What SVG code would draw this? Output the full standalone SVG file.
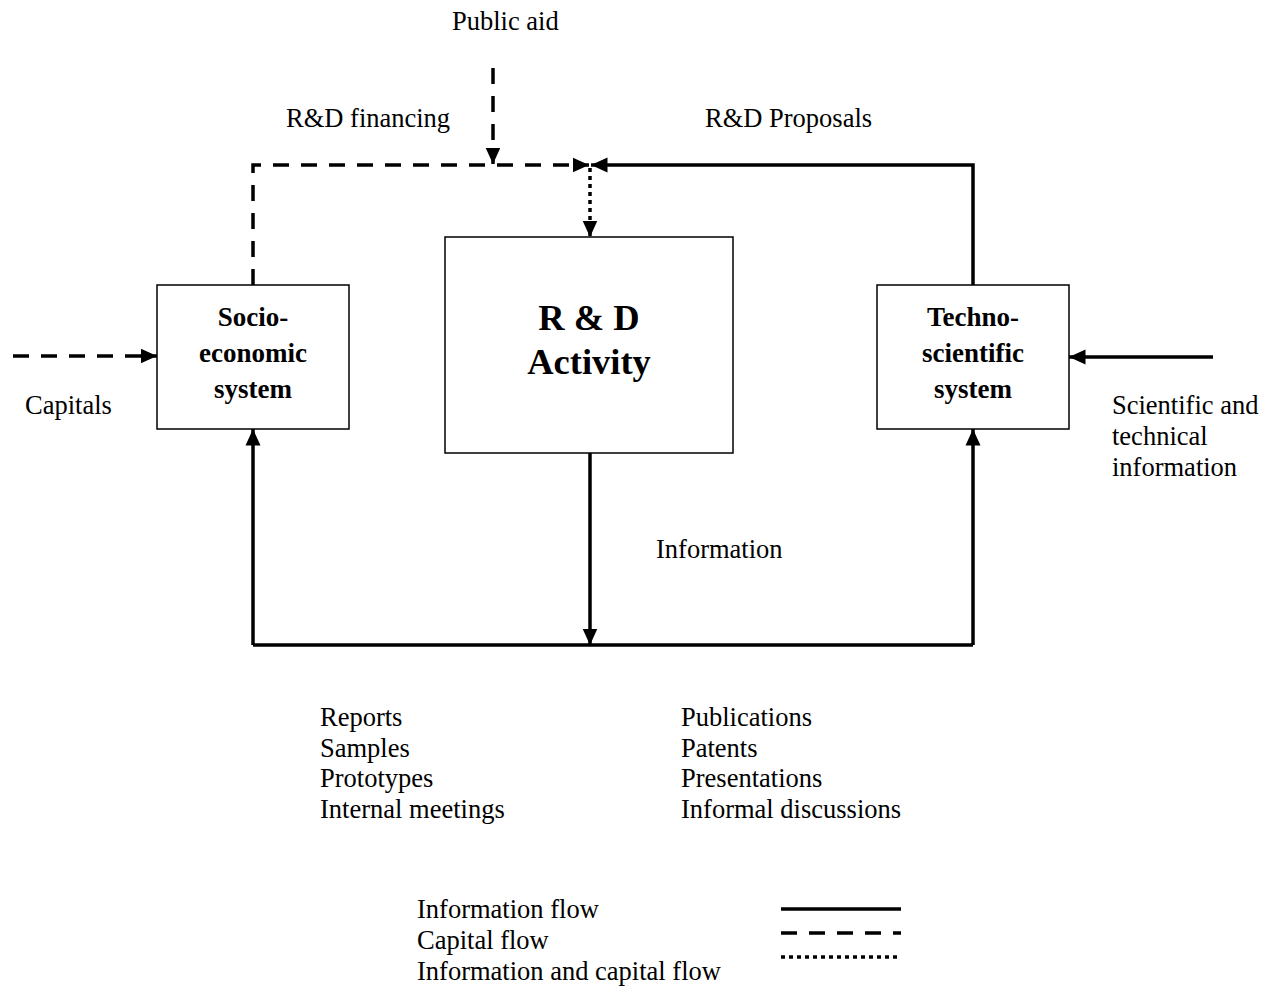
<svg xmlns="http://www.w3.org/2000/svg" width="1275" height="988" viewBox="0 0 1275 988">
<style>
text{font-family:"Liberation Serif","Times New Roman",serif;fill:#000}
.t{font-size:26.5px}
.b{font-size:27px;font-weight:bold;text-anchor:middle}
.bb{font-size:36.5px;font-weight:bold;text-anchor:middle}
.box{fill:#fff;stroke:#000;stroke-width:1.5}
.c{fill:none;stroke:#000;stroke-width:3.5}
.d{stroke-dasharray:16 12}
.o{stroke-dasharray:4 4}
</style>
<defs>
<marker id="ah" markerUnits="userSpaceOnUse" markerWidth="17" markerHeight="17" viewBox="0 0 17 17" refX="16.5" refY="8.5" orient="auto">
<path d="M0,1 L16.5,8.5 L0,16 Z" fill="#000"/>
</marker>
</defs>
<rect width="1275" height="988" fill="#fff"/>
<g id="connectors">
<path class="c d" d="M253,285 L253,165 L589,165" marker-end="url(#ah)"/>
<path class="c d" d="M493,68 L493,164" marker-end="url(#ah)"/>
<path class="c" d="M973,285 L973,165 L591,165" marker-end="url(#ah)"/>
<path class="c o" d="M590,168 L590,237" marker-end="url(#ah)"/>
<path class="c d" d="M13,356 L157,356" marker-end="url(#ah)"/>
<path class="c" d="M1213,357 L1069,357" marker-end="url(#ah)"/>
<path class="c" d="M590,453 L590,645" marker-end="url(#ah)"/>
<path class="c" d="M253,645 L973,645"/>
<path class="c" d="M253,645 L253,429" marker-end="url(#ah)"/>
<path class="c" d="M973,645 L973,429" marker-end="url(#ah)"/>
</g>
<g id="socio">
<rect class="box" x="157" y="285" width="192" height="144"/>
<text class="b" x="253" y="326">Socio-</text>
<text class="b" x="253" y="362">economic</text>
<text class="b" x="253" y="398">system</text>
</g>
<g id="rd">
<rect class="box" x="445" y="237" width="288" height="216"/>
<text class="bb" x="589" y="330">R &amp; D</text>
<text class="bb" x="589" y="374">Activity</text>
</g>
<g id="techno">
<rect class="box" x="877" y="285" width="192" height="144"/>
<text class="b" x="973" y="326">Techno-</text>
<text class="b" x="973" y="362">scientific</text>
<text class="b" x="973" y="398">system</text>
</g>
<g id="labels">
<text class="t" x="452" y="30">Public aid</text>
<text class="t" x="286" y="127">R&amp;D financing</text>
<text class="t" x="705" y="127">R&amp;D Proposals</text>
<text class="t" x="25" y="414">Capitals</text>
<text class="t" x="1112" y="414">Scientific and</text>
<text class="t" x="1112" y="445">technical</text>
<text class="t" x="1112" y="476">information</text>
<text class="t" x="656" y="558">Information</text>
<text class="t" x="320" y="726">Reports</text>
<text class="t" x="320" y="757">Samples</text>
<text class="t" x="320" y="787">Prototypes</text>
<text class="t" x="320" y="818">Internal meetings</text>
<text class="t" x="681" y="726">Publications</text>
<text class="t" x="681" y="757">Patents</text>
<text class="t" x="681" y="787">Presentations</text>
<text class="t" x="681" y="818">Informal discussions</text>
</g>
<g id="legend">
<text class="t" x="417" y="918">Information flow</text>
<text class="t" x="417" y="949">Capital flow</text>
<text class="t" x="417" y="980">Information and capital flow</text>
<path class="c" d="M781,909 L901,909"/>
<path class="c d" d="M781,933 L901,933"/>
<path class="c o" d="M781,957 L899,957"/>
</g>
</svg>
